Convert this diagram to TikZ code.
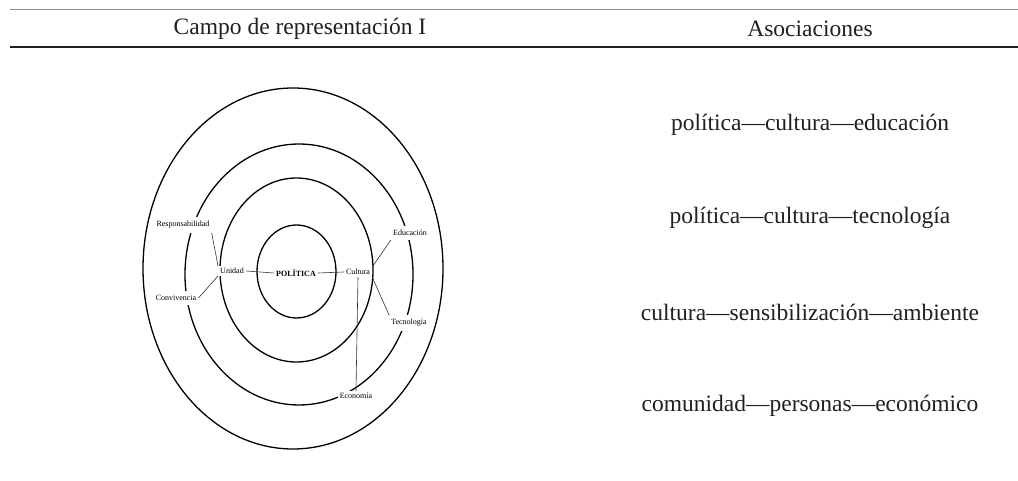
\documentclass[tikz,border=0pt]{standalone}
\usepackage{fontspec}
\setmainfont{Liberation Serif}
\definecolor{txt}{HTML}{231F20}
\begin{document}
\begin{tikzpicture}[x=1pt,y=-1pt,
  ring/.style={line width=1.3pt, draw=black},
  lbl/.style={font=\fontsize{8}{9}\selectfont, fill=white, inner sep=2pt, text=black},
  gap/.style={inner ysep=4pt},
  conn/.style={line width=0.6pt, draw=black!80},
  big/.style={font=\fontsize{23.5}{28}\selectfont, text=txt, inner sep=0pt}]
\useasboundingbox (0,0) rectangle (1018,481);
% table rules
\coordinate (tl) at (10,9.5);
\coordinate (tr) at (1018,9.5);
\coordinate (bl) at (10,47);
\coordinate (br) at (1018,47);
\draw[line width=1pt, draw=black!45] (tl) -- (tr);
\draw[line width=2.6pt, draw=txt] (bl) -- (br);
% headers
\node[big] (h1) at (300,29) {Campo de representación I};
\node[big] (h2) at (810,29) {Asociaciones};
% associations
\node[big] (a1) at (810,125) {política—cultura—educación};
\node[big] (a2) at (810,218) {política—cultura—tecnología};
\node[big] (a3) at (810,312) {cultura—sensibilización—ambiente};
\node[big] (a4) at (810,406) {comunidad—personas—económico};
% rings
\draw[ring] (293,268.5) ellipse [x radius=150pt, y radius=180.5pt];
\draw[ring] (299,274.5) ellipse [x radius=114pt, y radius=130.5pt];
\draw[ring] (296.5,270) ellipse [x radius=76.5pt, y radius=92pt];
\draw[ring] (296.5,271.5) ellipse [x radius=39.5pt, y radius=46.5pt];
% labels
\node[lbl, gap] (resp) at (183,225) {Responsabilidad};
\node[lbl, gap] (conv) at (176,298) {Convivencia};
\node[lbl] (unid) at (232,271) {Unidad};
\node[lbl, font=\fontsize{8}{9}\selectfont\bfseries] (pol) at (296,273) {POLÍTICA};
\node[lbl] (cult) at (358,272) {Cultura};
\node[lbl, gap] (edu) at (410,233) {Educación};
\node[lbl, gap] (tec) at (409,323) {Tecnología};
\node[lbl] (eco) at (356,396) {Economía};
% connectors
\draw[conn] (resp.south east) -- (unid.north west);
\draw[conn] (conv.east) -- (unid.south west);
\draw[conn] (unid.east) -- (pol.west);
\draw[conn] (pol.east) -- (cult.west);
\draw[conn] (cult.north east) -- (edu.south west);
\draw[conn] (cult.south east) -- (tec.north west);
\draw[conn] (cult.south) -- (eco.north);
\end{tikzpicture}
\end{document}
